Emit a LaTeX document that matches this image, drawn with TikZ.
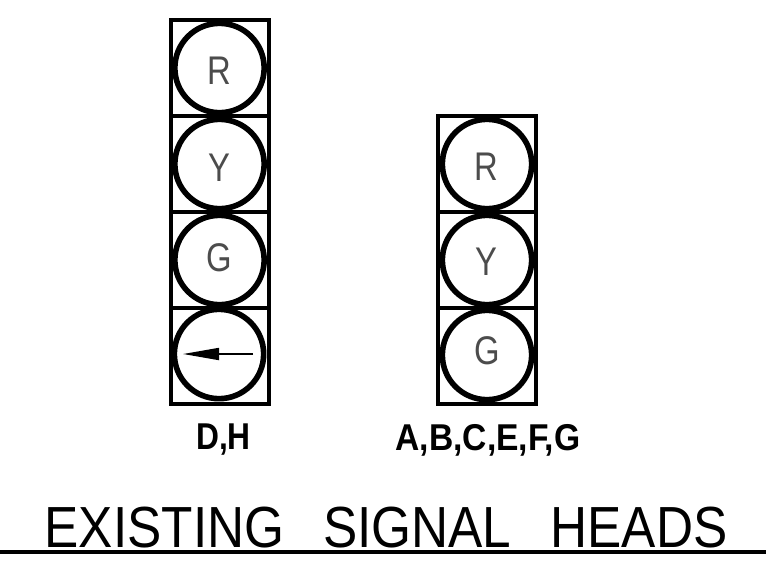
\documentclass[tikz,border=0pt]{standalone}
\usepackage{fontspec}
\setmainfont{Liberation Sans}
\usetikzlibrary{arrows.meta}
\tikzset{
 cell/.style={draw,line width=3pt,minimum width=73.5pt,minimum height=72pt,inner sep=0pt,outer sep=0pt},
 lamp/.style={draw,circle,line width=4.2pt,minimum size=67pt,inner sep=0pt},
 letter/.style={font=\fontsize{30}{30}\selectfont,text=black!70,inner sep=0pt},
 captxt/.style={font=\bfseries\fontsize{28}{28}\selectfont},
 ttl/.style={font=\fontsize{43.5}{43.5}\selectfont}
}
\newcommand{\narrow}[1]{\scalebox{0.82}[1]{#1}}
\begin{document}
\begin{tikzpicture}[x=0.75pt,y=-0.75pt]
\useasboundingbox (0,0) rectangle (784,571);
\foreach \n/\y in {a/68,b/164,c/260,d/356}{\node[cell] (c\n) at (219.5,\y) {};}
\node[lamp] (la) at (ca.center) {};
\node[lamp] (lb) at (cb.center) {};
\node[lamp] (lc) at (cc.center) {};
\node[lamp] (ld) at (219,354) {};
\node[letter] (ra) at (219,71) {\narrow{R}};
\node[letter] (rb) at (219,168) {\narrow{Y}};
\node[letter] (rc) at (219,258) {\narrow{G}};
\coordinate (ae) at (253,354);
\coordinate (as) at (183,354);
\draw[line width=1.3pt,-{Triangle[length=27pt,width=9pt]}] (ae) -- (as);
\foreach \n/\y in {e/164,f/260,g/356}{\node[cell] (c\n) at (487,\y) {};}
\node[lamp] (le) at (ce.center) {};
\node[lamp] (lf) at (cf.center) {};
\node[lamp] (lg) at (487,355) {};
\node[letter] (re) at (486,167) {\narrow{R}};
\node[letter] (rf) at (486,262) {\narrow{Y}};
\node[letter] (rg) at (487,351) {\narrow{G}};
\node[captxt] (t1) at (223.5,440) {\scalebox{0.85}[1]{D,H}};
\node[captxt] (t2) at (488,440) {\scalebox{0.9}[1]{A,B,C,E,F,G}};
\node[ttl] (t3) at (386,527.5) {\scalebox{0.885}[1]{EXISTING\hspace{33pt}SIGNAL\hspace{33pt}HEADS}};
\coordinate (l1) at (0,552);
\coordinate (l2) at (766,552);
\draw[line width=2.6pt] (l1) -- (l2);
\end{tikzpicture}
\end{document}
